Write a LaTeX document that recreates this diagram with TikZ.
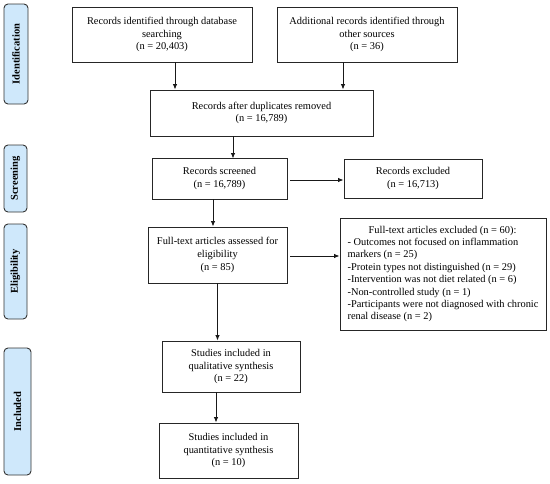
\documentclass[tikz,border=0pt]{standalone}
\usepackage{fontspec}
\setmainfont{Liberation Serif}
\usetikzlibrary{arrows.meta}
\definecolor{sidefill}{RGB}{207,232,251}
\begin{document}
\begin{tikzpicture}[x=1pt,y=-1pt,
  box/.style={draw=black!85,line width=0.9pt,fill=white,inner sep=0pt,align=center,
    font=\fontsize{10.4}{12.6}\selectfont},
  side/.style={draw=black!80,line width=0.9pt,fill=sidefill,rounded corners=4pt,inner sep=0pt},
  sidetext/.style={rotate=90,font=\fontsize{10.5}{12}\selectfont\bfseries},
  arr/.style={line width=0.9pt,draw=black!90,-{Latex[length=5.5pt,width=4.5pt]}}]
\useasboundingbox (0,0) rectangle (550,483);
% side labels
\node[side,minimum width=24pt,minimum height=100pt] (sid) at (16,54) {};
\node[sidetext] (sidt) at (sid.center) {Identification};
\node[side,minimum width=23pt,minimum height=67pt] (scr) at (15.5,178.5) {};
\node[sidetext] (scrt) at (scr.center) {Screening};
\node[side,minimum width=23pt,minimum height=95pt] (eli) at (15.5,271.5) {};
\node[sidetext] (elit) at (eli.center) {Eligibility};
\node[side,minimum width=27pt,minimum height=127pt] (inc) at (17.5,411.5) {};
\node[sidetext] (inct) at (inc.center) {Included};
% boxes
\node[box,minimum width=180pt,minimum height=55pt] (b1) at (162,34.5)
  {Records identified through database\\searching\\(n = 20,403)};
\node[box,minimum width=180pt,minimum height=55pt] (b2) at (367,34.5)
  {Additional records identified through\\other sources\\(n = 36)};
\node[box,minimum width=223pt,minimum height=46pt] (b3) at (261.5,113)
  {Records after duplicates removed\\(n = 16,789)};
\node[box,minimum width=135pt,minimum height=41pt] (b4) at (219.5,178.5)
  {Records screened\\(n = 16,789)};
\node[box,minimum width=138pt,minimum height=39pt] (b5) at (413,178.5)
  {Records excluded\\(n = 16,713)};
\node[box,minimum width=139pt,minimum height=56pt] (b6) at (217.5,255)
  {Full-text articles assessed for\\eligibility\\(n = 85)};
\node[box,minimum width=206pt,minimum height=112pt,align=left,font=\fontsize{10.4}{12.4}\selectfont] (b7) at (443,274)
  {\makebox[190pt][c]{Full-text articles excluded (n = 60):}\\
   - Outcomes not focused on inflammation\\
   markers (n = 25)\\
   -Protein types not distinguished (n = 29)\\
   -Intervention was not diet related (n = 6)\\
   -Non-controlled study (n = 1)\\
   -Participants were not diagnosed with chronic\\
   renal disease (n = 2)};
\node[box,minimum width=138pt,minimum height=51pt] (b8) at (231,366.5)
  {Studies included in\\qualitative synthesis\\(n = 22)};
\node[box,minimum width=139pt,minimum height=55pt] (b9) at (228.5,450.5)
  {Studies included in\\quantitative synthesis\\(n = 10)};
% arrows
\draw[arr] ([xshift=13pt]b1.south) -- ([xshift=13pt]b1.south |- b3.north);
\draw[arr] ([xshift=-24pt]b2.south) -- ([xshift=-24pt]b2.south |- b3.north);
\draw[arr] ([xshift=-28.5pt]b3.south) -- ([xshift=-28.5pt,yshift=-1pt]b3.south |- b4.north);
\draw[arr,shorten <=3pt] ([yshift=-1.5pt]b4.east) -- ([yshift=-1.5pt]b4.east -| b5.west);
\draw[arr] ([xshift=-6.5pt]b4.south) -- ([xshift=-6.5pt]b4.south |- b6.north);
\draw[arr,shorten <=3pt] ([yshift=-1pt]b6.east) -- ([yshift=-1pt]b6.east -| b7.west);
\draw[arr] (b6.south) -- (b6.south |- b8.north);
\draw[arr] ([xshift=-15pt]b8.south) -- ([xshift=-15pt]b8.south |- b9.north);
\end{tikzpicture}
\end{document}
